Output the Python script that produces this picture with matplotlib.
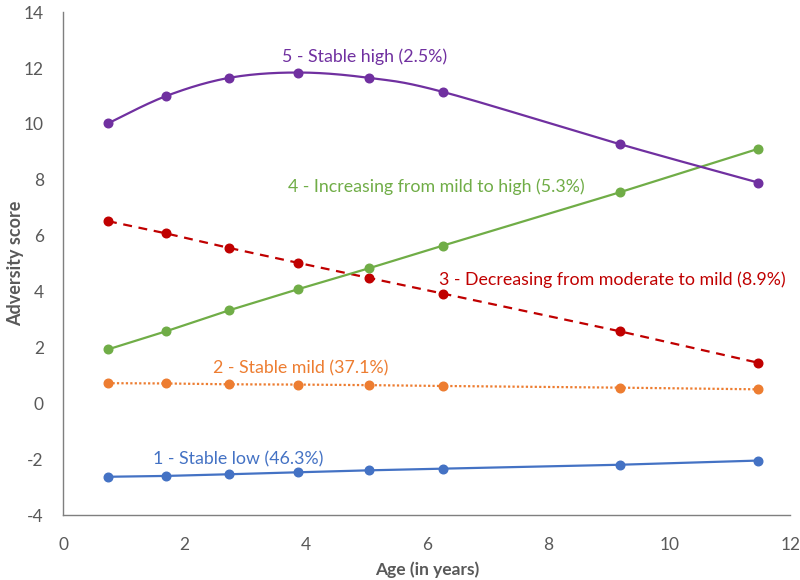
import numpy as np
import matplotlib
matplotlib.use("Agg")
import matplotlib.pyplot as plt

ages = [0.74, 1.70, 2.74, 3.87, 5.04, 6.26, 9.18, 11.47]
stable_low = [-2.63, -2.60, -2.54, -2.47, -2.40, -2.34, -2.20, -2.05]
stable_mild = [0.72, 0.71, 0.68, 0.67, 0.65, 0.62, 0.56, 0.50]
decreasing = [6.52, 6.08, 5.56, 5.03, 4.49, 3.93, 2.58, 1.45]
increasing = [1.93, 2.58, 3.33, 4.08, 4.83, 5.64, 7.55, 9.11]
stable_high = [10.02, 11.00, 11.65, 11.84, 11.65, 11.15, 9.28, 7.90]

labels = ["1 - Stable low (46.3%)", "2 - Stable mild (37.1%)",
          "3 - Decreasing from moderate to mild (8.9%)",
          "4 - Increasing from mild to high (5.3%)", "5 - Stable high (2.5%)"]
colors = ["#4472C4", "#ED7D31", "#C00000", "#70AD47", "#7030A0"]

plt.rcParams['font.family'] = ['Lato', 'DejaVu Sans']
plt.rcParams['axes.unicode_minus'] = False

fig = plt.figure(figsize=(8, 5.8), dpi=100)
ax = fig.add_axes([0.079, 0.112, 0.909, 0.867])


def smooth(xs, ys, n=30):
    xs = np.asarray(xs, float); ys = np.asarray(ys, float)
    P = np.column_stack([xs, ys])
    out = []
    for i in range(len(P) - 1):
        p0 = P[i - 1] if i > 0 else P[i]
        p1 = P[i]; p2 = P[i + 1]
        p3 = P[i + 2] if i + 2 < len(P) else P[i + 1]
        c1 = p1 + (p2 - p0) / 6.0
        c2 = p2 - (p3 - p1) / 6.0
        t = np.linspace(0, 1, n)[:, None]
        seg = ((1 - t) ** 3) * p1 + 3 * ((1 - t) ** 2) * t * c1 + 3 * (1 - t) * t ** 2 * c2 + t ** 3 * p2
        out.append(seg if i == 0 else seg[1:])
    out = np.vstack(out)
    return out[:, 0], out[:, 1]

ms = 6.2
lw = 1.6
ax.plot(ages, stable_low, color=colors[0], lw=lw, marker='o', ms=ms)
ax.plot(ages, stable_mild, color=colors[1], lw=lw, ls=(0, (1, 1)), marker='o', ms=ms)
ax.plot(ages, decreasing, color=colors[2], lw=lw, ls=(0, (4, 3)), marker='o', ms=ms)
ax.plot(ages, increasing, color=colors[3], lw=lw, marker='o', ms=ms)
sx, sy = smooth(ages, stable_high)
ax.plot(sx, sy, color=colors[4], lw=lw)
ax.plot(ages, stable_high, color=colors[4], lw=0, marker='o', ms=ms)

fs = 12.8
ax.text(2.88, -2.0, labels[0], color=colors[0], fontsize=fs, ha='center', va='center')
ax.text(3.92, 1.25, labels[1], color=colors[1], fontsize=fs, ha='center', va='center')
ax.text(9.06, 4.44, labels[2], color=colors[2], fontsize=fs, ha='center', va='center')
ax.text(6.16, 7.74, labels[3], color=colors[3], fontsize=fs, ha='center', va='center')
ax.text(4.98, 12.4, labels[4], color=colors[4], fontsize=fs, ha='center', va='center')

ax.set_xlim(0, 12)
ax.set_ylim(-4, 14)
ax.set_xticks(range(0, 13, 2))
ax.set_yticks(range(-4, 15, 2))
ax.tick_params(axis='y', length=0, labelsize=12.5, labelcolor='#595959', pad=14)
ax.tick_params(axis='x', length=0, labelsize=12.5, labelcolor='#595959', pad=16)
for s in ['top', 'right']:
    ax.spines[s].set_visible(False)
for s in ['left', 'bottom']:
    ax.spines[s].set_color('#7f7f7f')
    ax.spines[s].set_linewidth(1.0)
ax.set_xlabel("Age (in years)", fontsize=12.5, fontweight='bold', color='#595959', labelpad=6)
ax.set_ylabel("Adversity score", fontsize=13, fontweight='bold', color='#595959', va='center')
ax.yaxis.set_label_coords(-0.066, 0.5)

fig.savefig("out.png", dpi=100)
